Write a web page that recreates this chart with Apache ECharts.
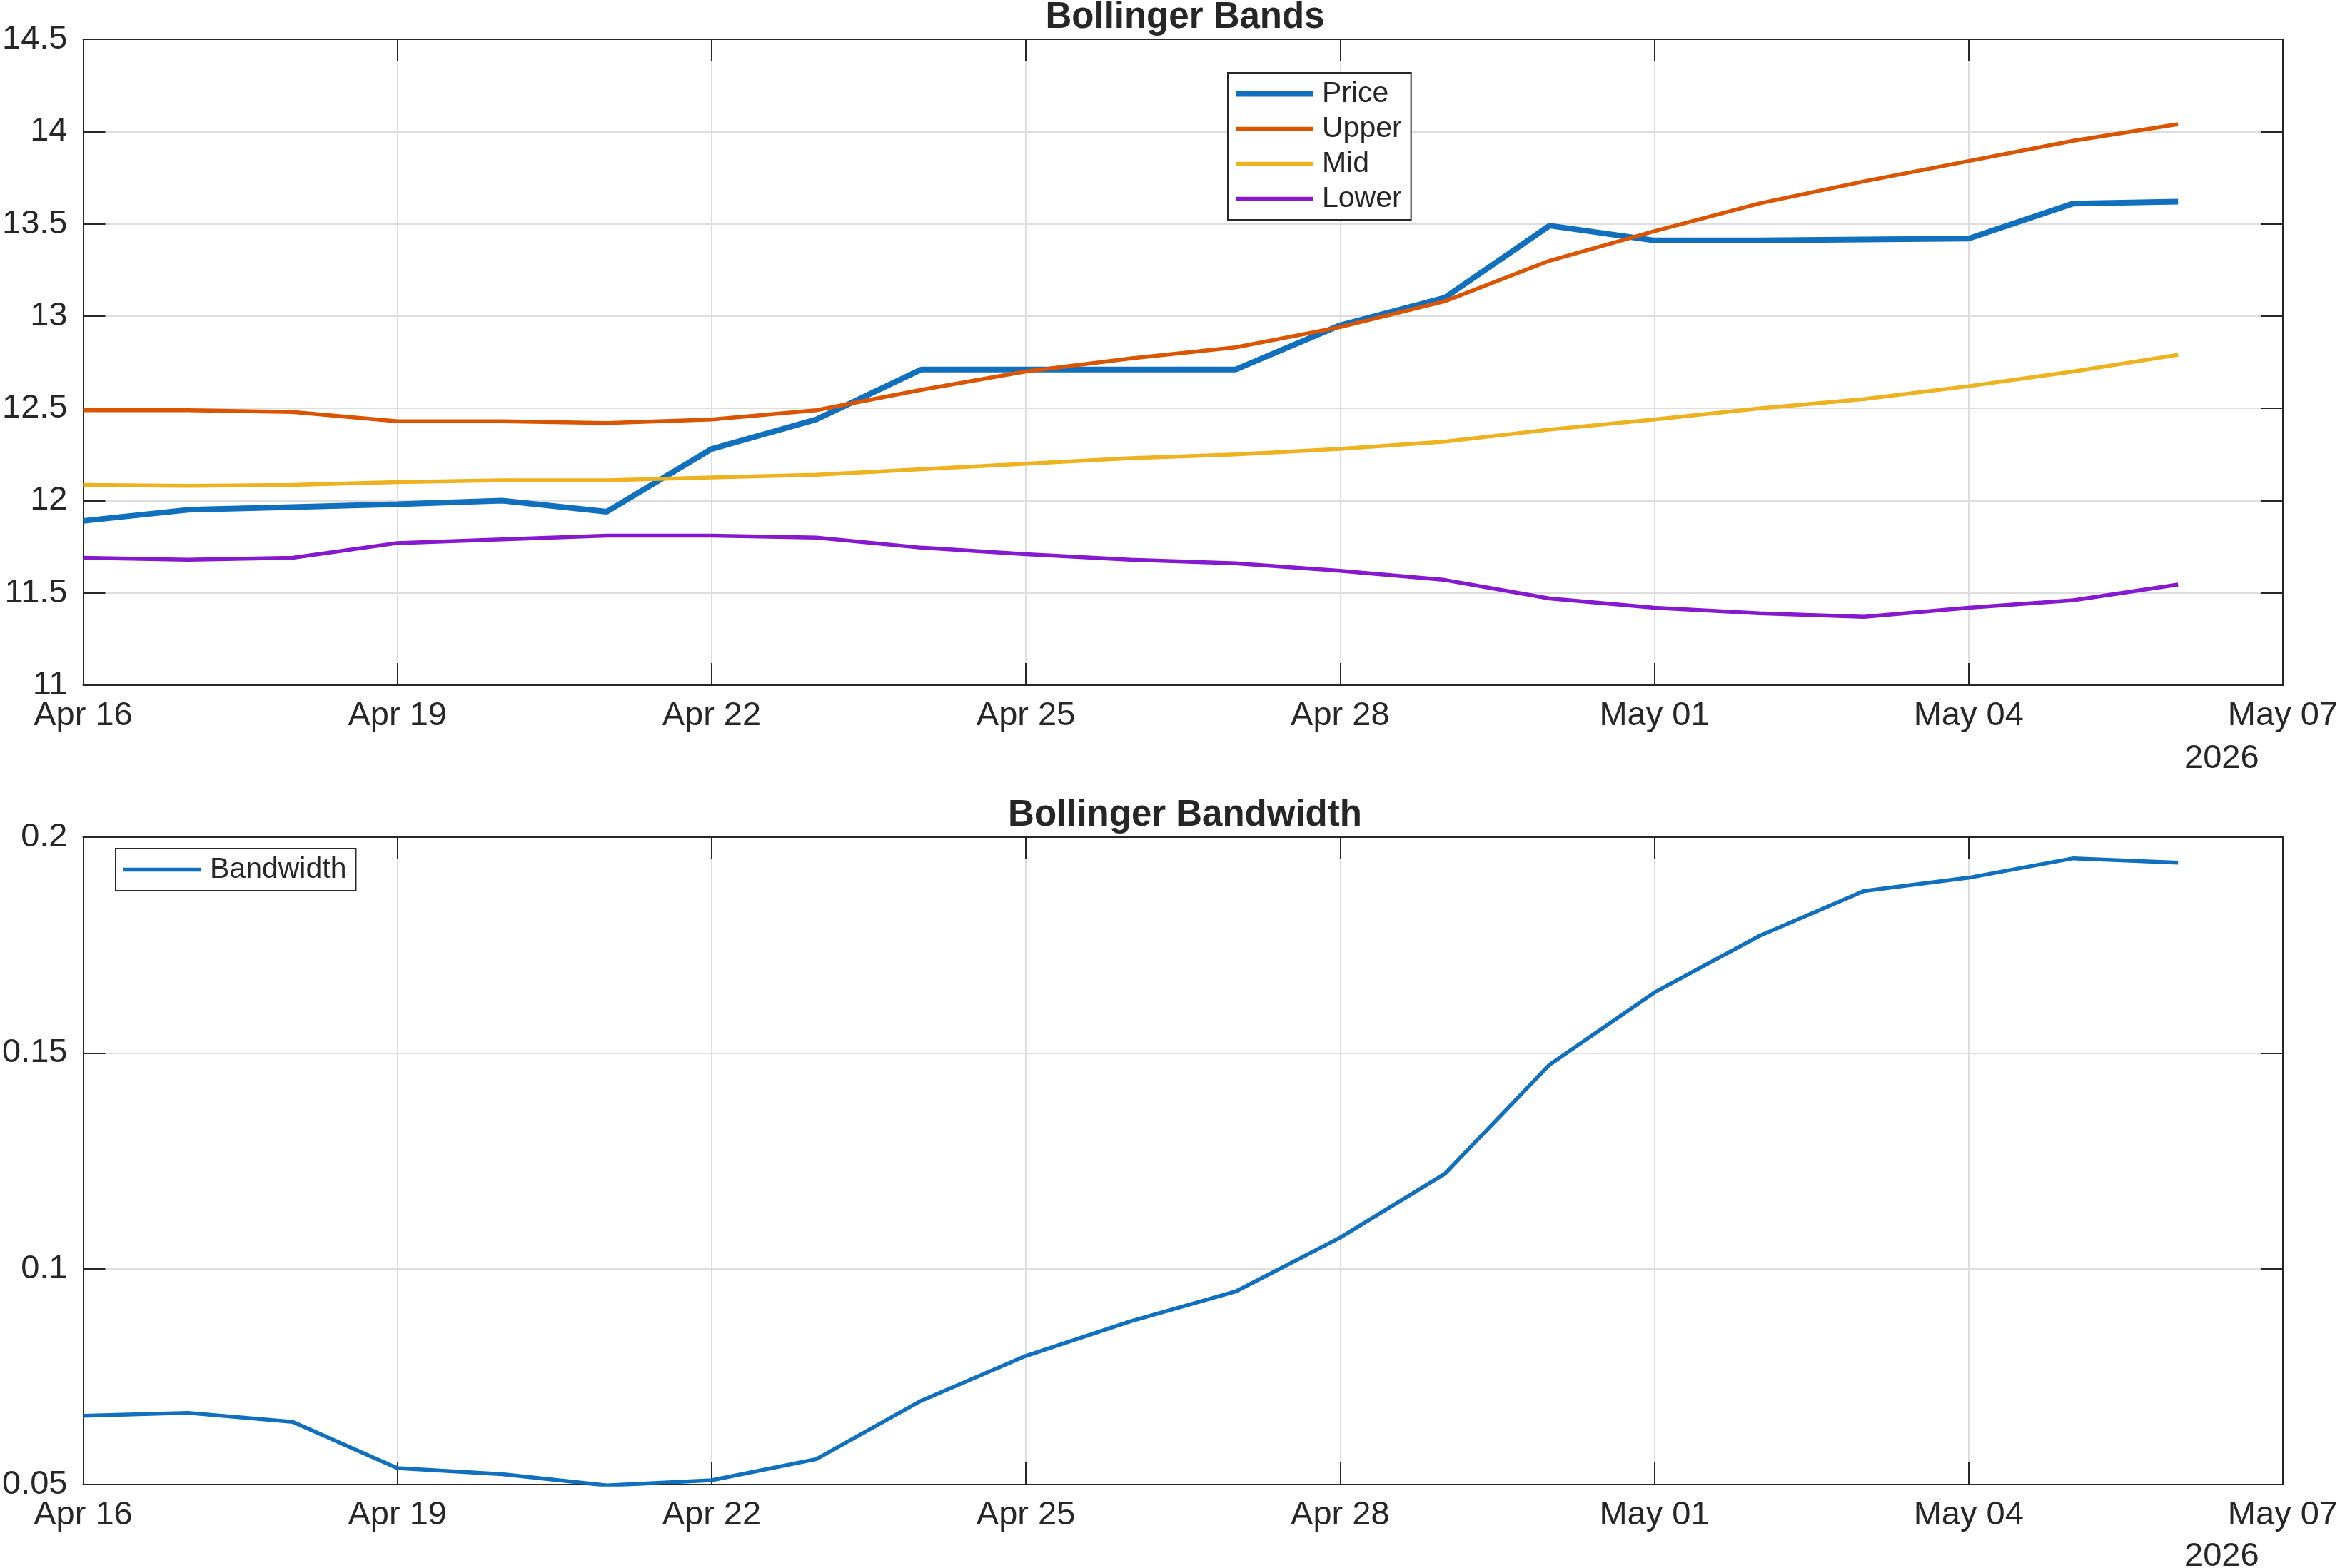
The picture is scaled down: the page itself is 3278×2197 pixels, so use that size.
<!DOCTYPE html>
<html style="height:100%;width:100%;">

<head>
  <meta charset="utf-8">
  <title>Bollinger Bands</title>
  <script src="https://cdn.jsdelivr.net/npm/echarts@6/dist/echarts.min.js"></script>
</head>

<body style="margin:0px;height:100%;width:100%;background:#fff;">
  <div id="main" style="width:3278px;height:2197px"></div>
  <script type="text/javascript">
    // daily closes, Apr 16 - May 06 2026
    var dates = ['2026-04-16', '2026-04-17', '2026-04-18', '2026-04-19', '2026-04-20', '2026-04-21', '2026-04-22',
      '2026-04-23', '2026-04-24', '2026-04-25', '2026-04-26', '2026-04-27', '2026-04-28', '2026-04-29',
      '2026-04-30', '2026-05-01', '2026-05-02', '2026-05-03', '2026-05-04', '2026-05-05', '2026-05-06'];
    var price = [11.89, 11.95, 11.965, 11.98, 12.00, 11.94, 12.28, 12.44, 12.71, 12.71, 12.71,
      12.71, 12.95, 13.10, 13.49, 13.41, 13.41, 13.415, 13.42, 13.61, 13.62];
    var upper = [12.49, 12.49, 12.48, 12.43, 12.43, 12.42, 12.44, 12.49, 12.60, 12.70, 12.77,
      12.83, 12.94, 13.08, 13.30, 13.46, 13.61, 13.73, 13.84, 13.95, 14.04];
    var mid = [12.085, 12.08, 12.085, 12.10, 12.11, 12.11, 12.125, 12.14, 12.17, 12.20, 12.23,
      12.25, 12.28, 12.32, 12.385, 12.44, 12.50, 12.55, 12.62, 12.70, 12.79];
    var lower = [11.69, 11.68, 11.69, 11.77, 11.79, 11.81, 11.81, 11.80, 11.745, 11.71, 11.68,
      11.66, 11.62, 11.57, 11.47, 11.42, 11.39, 11.37, 11.42, 11.46, 11.545];
    var bandwidth = [0.0659, 0.0666, 0.0645, 0.0538, 0.0524, 0.0498, 0.051, 0.0559, 0.0694, 0.0798, 0.0878,
      0.0947, 0.1072, 0.122, 0.1473, 0.164, 0.1771, 0.1875, 0.1906, 0.1951, 0.1941];
    var xTickLabels = ['Apr 16', 'Apr 19', 'Apr 22', 'Apr 25', 'Apr 28', 'May 01', 'May 04', 'May 07'];
    var yearLabel = '2026';

    var myChart = echarts.init(document.getElementById('main'));
    var ink = '#262626';
    var font = 'Liberation Sans';
    var thick = 'path://M0,0H109V8H0Z'; // legend swatch for the price line
    var thin = 'path://M0,0H109V5.5H0Z';

    // day number since the first date
    var t0 = Date.parse(dates[0]);
    function pairs(vals) {
      return vals.map(function(v, i) {
        return [(Date.parse(dates[i]) - t0) / 86400000, v];
      });
    }

    function xAx(grid, top) {
      return {
        type: 'value', gridIndex: grid, position: top ? 'top' : 'bottom',
        min: 0, max: 21, interval: 3,
        axisLine: { show: true, onZero: false, lineStyle: { color: ink, width: 2 } },
        axisTick: { show: true, inside: true, length: 31, lineStyle: { color: ink, width: 2 } },
        axisLabel: {
          show: !top, color: ink, fontFamily: font, fontSize: 47, margin: 20,
          formatter: function(v) { return xTickLabels[Math.round(v / 3)]; }
        },
        splitLine: { show: !top, lineStyle: { color: '#dedede', width: 2 } }
      };
    }

    function yAx(grid, right, min, max, step) {
      return {
        type: 'value', gridIndex: grid, position: right ? 'right' : 'left',
        min: min, max: max, interval: step,
        axisLine: { show: true, onZero: false, lineStyle: { color: ink, width: 2 } },
        axisTick: { show: true, inside: true, length: 31, lineStyle: { color: ink, width: 2 } },
        axisLabel: { show: !right, color: ink, fontFamily: font, fontSize: 47, margin: 22 },
        splitLine: { show: !right, lineStyle: { color: '#dedede', width: 2 } }
      };
    }

    var legendBase = {
      orient: 'vertical',
      backgroundColor: '#fff',
      borderColor: ink,
      borderWidth: 2,
      borderRadius: 0,
      padding: [9, 13, 9, 11],
      itemGap: 8,
      itemWidth: 109,
      itemHeight: 14,
      textStyle: { color: ink, fontFamily: font, fontSize: 41, lineHeight: 41, padding: [0, 0, 0, 7] }
    };

    option = {
      animation: false,
      backgroundColor: '#fff',
      title: [{
        text: 'Bollinger Bands', left: 1655, top: -6, textAlign: 'center',
        textStyle: { color: ink, fontFamily: font, fontSize: 51, fontWeight: 'bold' }
      }, {
        text: 'Bollinger Bandwidth', left: 1655, top: 1112, textAlign: 'center',
        textStyle: { color: ink, fontFamily: font, fontSize: 51, fontWeight: 'bold' }
      }],
      legend: [
        Object.assign({}, legendBase, {
          left: 1720, top: 102,
          data: [
            { name: 'Price', icon: thick },
            { name: 'Upper', icon: thin },
            { name: 'Mid', icon: thin },
            { name: 'Lower', icon: thin }
          ]
        }),
        Object.assign({}, legendBase, { left: 162, top: 1189, data: [{ name: 'Bandwidth', icon: thin }] })
      ],
      grid: [
        { left: 110, right: 78, top: 55, height: 905 },
        { left: 110, right: 78, top: 1173, height: 907 }
      ],
      xAxis: [xAx(0, false), xAx(0, true), xAx(1, false), xAx(1, true)],
      yAxis: [
        yAx(0, false, 11, 14.5, 0.5), yAx(0, true, 11, 14.5, 0.5),
        yAx(1, false, 0.05, 0.2, 0.05), yAx(1, true, 0.05, 0.2, 0.05)
      ],
      graphic: [{
        type: 'text', left: 3060, top: 1040,
        style: { text: yearLabel, fill: ink, font: '47px "Liberation Sans"' }
      }, {
        type: 'text', left: 3060, top: 2158,
        style: { text: yearLabel, fill: ink, font: '47px "Liberation Sans"' }
      }],
      series: [{
        name: 'Price', type: 'line', xAxisIndex: 0, yAxisIndex: 0, symbol: 'none',
        data: pairs(price), itemStyle: { color: '#1170BE' }, lineStyle: { color: '#1170BE', width: 8 }
      }, {
        name: 'Upper', type: 'line', xAxisIndex: 0, yAxisIndex: 0, symbol: 'none',
        data: pairs(upper), itemStyle: { color: '#DB5500' }, lineStyle: { color: '#DB5500', width: 5.5 }
      }, {
        name: 'Mid', type: 'line', xAxisIndex: 0, yAxisIndex: 0, symbol: 'none',
        data: pairs(mid), itemStyle: { color: '#EEB220' }, lineStyle: { color: '#EEB220', width: 5.5 }
      }, {
        name: 'Lower', type: 'line', xAxisIndex: 0, yAxisIndex: 0, symbol: 'none',
        data: pairs(lower), itemStyle: { color: '#8619CF' }, lineStyle: { color: '#8619CF', width: 5.5 }
      }, {
        name: 'Bandwidth', type: 'line', xAxisIndex: 2, yAxisIndex: 2, symbol: 'none',
        data: pairs(bandwidth), itemStyle: { color: '#1170BE' }, lineStyle: { color: '#1170BE', width: 5.5 }
      }]
    };

    if (option && typeof option === "object") {
      myChart.setOption(option, true);
    }
  </script>
</body>

</html>
